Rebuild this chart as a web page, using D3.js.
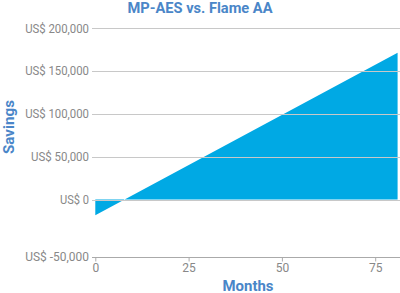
<!DOCTYPE html>
<html><head><meta charset="utf-8">
<script src="https://cdn.jsdelivr.net/npm/d3@7"></script>
<style>body{margin:0;background:#fff}svg{display:block}text{font-family:Roboto,"Noto Sans",sans-serif}</style>
</head><body><svg id="c" width="400" height="293"></svg>
<script>
const months = [0, 81];
const savings = [-18300, 171500];
const yTicks = [-50000, 0, 50000, 100000, 150000, 200000];
const yTickLabels = ["US$ -50,000", "US$ 0", "US$ 50,000", "US$ 100,000", "US$ 150,000", "US$ 200,000"];
const xTicks = [0, 25, 50, 75];
const title = "MP-AES vs. Flame AA";
const xTitle = "Months";
const yTitle = "Savings";

const svg = d3.select("#c");
const x = d3.scaleLinear().domain([0, 25]).range([95.3, 188.6]);
const y = d3.scaleLinear().domain([0, 200000]).range([199.5, 28.3]);
const axisY = 256.5;
const posY = d => d === yTicks[0] ? axisY : y(d);
const data = months.map((m, i) => ({m, v: savings[i]}));
const blue = "#4a86c8";

svg.append("path").datum(data)
  .attr("fill", "#00a9e4")
  .attr("d", d3.area().x(d => x(d.m)).y0(y(0)).y1(d => y(d.v)));

// grid lines
svg.append("g").selectAll("line").data(yTicks.slice(1)).join("line")
  .attr("x1", 92).attr("x2", 400)
  .attr("y1", d => Math.round(y(d)) + 0.5).attr("y2", d => Math.round(y(d)) + 0.5)
  .attr("stroke", "#c8c8c8").attr("stroke-width", 1);

// x axis
const xa = svg.append("g").attr("transform", `translate(0,${Math.round(axisY) + 0.5})`)
  .call(d3.axisBottom(x).tickValues(xTicks).tickSize(4).tickFormat(d3.format("d")));
xa.select(".domain").attr("d", "M92,0H400").attr("stroke", "#aaa");
xa.selectAll(".tick line").attr("stroke", "#aaa");
xa.selectAll(".tick text").attr("fill", "#888").attr("font-size", 12).attr("font-family", "Roboto").attr("dy", "0.85em").attr("y", 4);

// y labels
svg.append("g").selectAll("text").data(yTicks).join("text")
  .attr("x", 89).attr("y", d => posY(d)).attr("dy", "0.35em")
  .attr("text-anchor", "end").attr("fill", "#888").attr("font-size", 12)
  .attr("textLength", (d, i) => yTickLabels[i].length * 5.8).attr("lengthAdjust", "spacingAndGlyphs")
  .text((d, i) => yTickLabels[i]);

svg.append("text").attr("x", 200).attr("y", 13).attr("text-anchor", "middle")
  .attr("fill", blue).attr("font-weight", "bold").attr("font-size", 15)
  .attr("textLength", 145).attr("lengthAdjust", "spacingAndGlyphs").text(title);
svg.append("text").attr("x", 248).attr("y", 290.5).attr("text-anchor", "middle")
  .attr("fill", blue).attr("font-weight", "bold").attr("font-size", 14.5)
  .attr("textLength", 51).attr("lengthAdjust", "spacingAndGlyphs").text(xTitle);
svg.append("text").attr("transform", "translate(14,127) rotate(-90)").attr("text-anchor", "middle")
  .attr("fill", blue).attr("font-weight", "bold").attr("font-size", 15)
  .attr("textLength", 54).attr("lengthAdjust", "spacingAndGlyphs").text(yTitle);
</script></body></html>
